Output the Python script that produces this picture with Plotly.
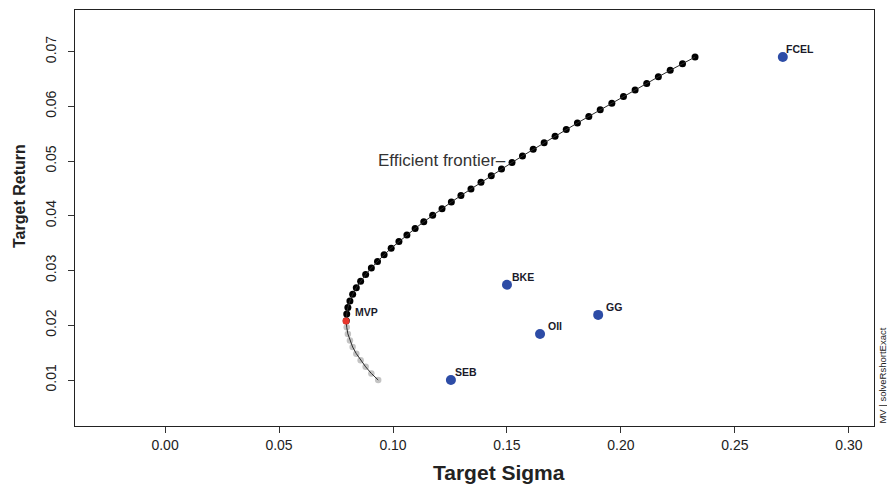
import plotly.graph_objects as go

# Frontier points (target sigma, target return)
frontier_return = [0.01000, 0.01120, 0.01241, 0.01361, 0.01482, 0.01602, 0.01722, 0.01843, 0.01963,
                   0.02084, 0.02204, 0.02325, 0.02445, 0.02565, 0.02686, 0.02806, 0.02927, 0.03047,
                   0.03167, 0.03288, 0.03408, 0.03529, 0.03649, 0.03769, 0.03890, 0.04010, 0.04131,
                   0.04251, 0.04371, 0.04492, 0.04612, 0.04733, 0.04853, 0.04974, 0.05094, 0.05214,
                   0.05335, 0.05455, 0.05576, 0.05696, 0.05816, 0.05937, 0.06057, 0.06178, 0.06298,
                   0.06418, 0.06539, 0.06659, 0.06780, 0.06900]
frontier_sigma = [0.0935, 0.0905, 0.0880, 0.0858, 0.0839, 0.0823, 0.0811, 0.0802, 0.0797,
                  0.0795, 0.0797, 0.0802, 0.0811, 0.0823, 0.0839, 0.0858, 0.0880, 0.0905,
                  0.0932, 0.0961, 0.0992, 0.1026, 0.1061, 0.1097, 0.1135, 0.1174, 0.1215,
                  0.1256, 0.1298, 0.1342, 0.1386, 0.1431, 0.1476, 0.1522, 0.1568, 0.1615,
                  0.1663, 0.1711, 0.1760, 0.1809, 0.1859, 0.1909, 0.1960, 0.2011, 0.2062,
                  0.2113, 0.2164, 0.2216, 0.2270, 0.2325]
n_inefficient = 9  # lower (gray) part of the frontier

mvp_sigma = [0.0794]
mvp_return = [0.0208]

assets = ["FCEL", "BKE", "GG", "OII", "SEB"]
asset_sigma = [0.2710, 0.1500, 0.1900, 0.1645, 0.1254]
asset_return = [0.0690, 0.0274, 0.0219, 0.0184, 0.0100]
label_xshift = [1, 3, 6, 6, 2]

x_ticks = [0.00, 0.05, 0.10, 0.15, 0.20, 0.25, 0.30]
x_tick_labels = ["0.00", "0.05", "0.10", "0.15", "0.20", "0.25", "0.30"]
y_ticks = [0.01, 0.02, 0.03, 0.04, 0.05, 0.06, 0.07]
y_tick_labels = ["0.01", "0.02", "0.03", "0.04", "0.05", "0.06", "0.07"]

sans = "Liberation Sans, Arial, sans-serif"

fig = go.Figure()

# inefficient part (gray)
fig.add_trace(go.Scatter(
    x=frontier_sigma[:n_inefficient], y=frontier_return[:n_inefficient], mode="markers",
    marker=dict(size=6.5, color="#c4c4c4"), hoverinfo="skip", showlegend=False))
# efficient part (black)
fig.add_trace(go.Scatter(
    x=frontier_sigma[n_inefficient:], y=frontier_return[n_inefficient:], mode="markers",
    marker=dict(size=7, color="black"), hoverinfo="skip", showlegend=False))
# connecting line
fig.add_trace(go.Scatter(
    x=frontier_sigma, y=frontier_return, mode="lines",
    line=dict(color="#2a2a2a", width=1), hoverinfo="skip", showlegend=False))
# MVP
fig.add_trace(go.Scatter(
    x=mvp_sigma, y=mvp_return, mode="markers",
    marker=dict(size=7, color="#e8352b"), showlegend=False))
# assets
fig.add_trace(go.Scatter(
    x=asset_sigma, y=asset_return, mode="markers",
    marker=dict(size=10, color="#2d4ca6"), showlegend=False))

for name, sx, ry, xs in zip(assets, asset_sigma, asset_return, label_xshift):
    fig.add_annotation(x=sx, y=ry, text="<b>" + name + "</b>", showarrow=False,
                       xanchor="left", yanchor="middle", xshift=xs, yshift=8,
                       font=dict(family=sans, size=10.5, color="#1a1a2a"))
fig.add_annotation(x=mvp_sigma[0], y=mvp_return[0], text="<b>MVP</b>", showarrow=False,
                   xanchor="left", yanchor="middle", xshift=7, yshift=9,
                   font=dict(family=sans, size=10.5, color="#1a1a2a"))

# "Efficient frontier" label, right end near the curve
fig.add_annotation(x=frontier_sigma[33], y=frontier_return[33], text="Efficient frontier–",
                   showarrow=False, xanchor="right", yanchor="middle", xshift=-4, yshift=2,
                   font=dict(family=sans, size=17, color="#333333"))

# vertical side note
fig.add_annotation(xref="paper", yref="paper", x=1.0095, y=0.0, text="MV | solveRshortExact",
                   showarrow=False, textangle=-90, xanchor="center", yanchor="bottom",
                   font=dict(family=sans, size=9.5, color="#222222"))

# axis titles (placed as in the reference)
fig.add_annotation(xref="paper", yref="paper", x=0.5307, y=-0.1106, text="<b>Target Sigma</b>",
                   showarrow=False, xanchor="center", yanchor="middle",
                   font=dict(family=sans, size=21, color="#222222"))
fig.add_annotation(xref="paper", yref="paper", x=-0.0688, y=0.553, text="<b>Target Return</b>",
                   showarrow=False, textangle=-90, xanchor="center", yanchor="middle",
                   font=dict(family=sans, size=16, color="#222222"))

axis_common = dict(showline=True, linecolor="#222222", linewidth=1.3, mirror=True,
                   ticks="outside", ticklen=6, tickwidth=1.2, tickcolor="#333333",
                   showgrid=False, zeroline=False, automargin=False,
                   tickfont=dict(family=sans, size=14, color="#222222"))

fig.update_xaxes(range=[-0.0395, 0.3110], tickvals=x_ticks, ticktext=x_tick_labels,
                 **axis_common)
fig.update_yaxes(range=[0.0016, 0.0776], tickvals=y_ticks, ticktext=y_tick_labels, tickangle=-90,
                 ticklabelstandoff=6, **axis_common)

fig.update_layout(width=887, height=484, margin=dict(l=75, r=13, t=10, b=58),
                  plot_bgcolor="white", paper_bgcolor="white", showlegend=False)

fig.write_html("out.html")
